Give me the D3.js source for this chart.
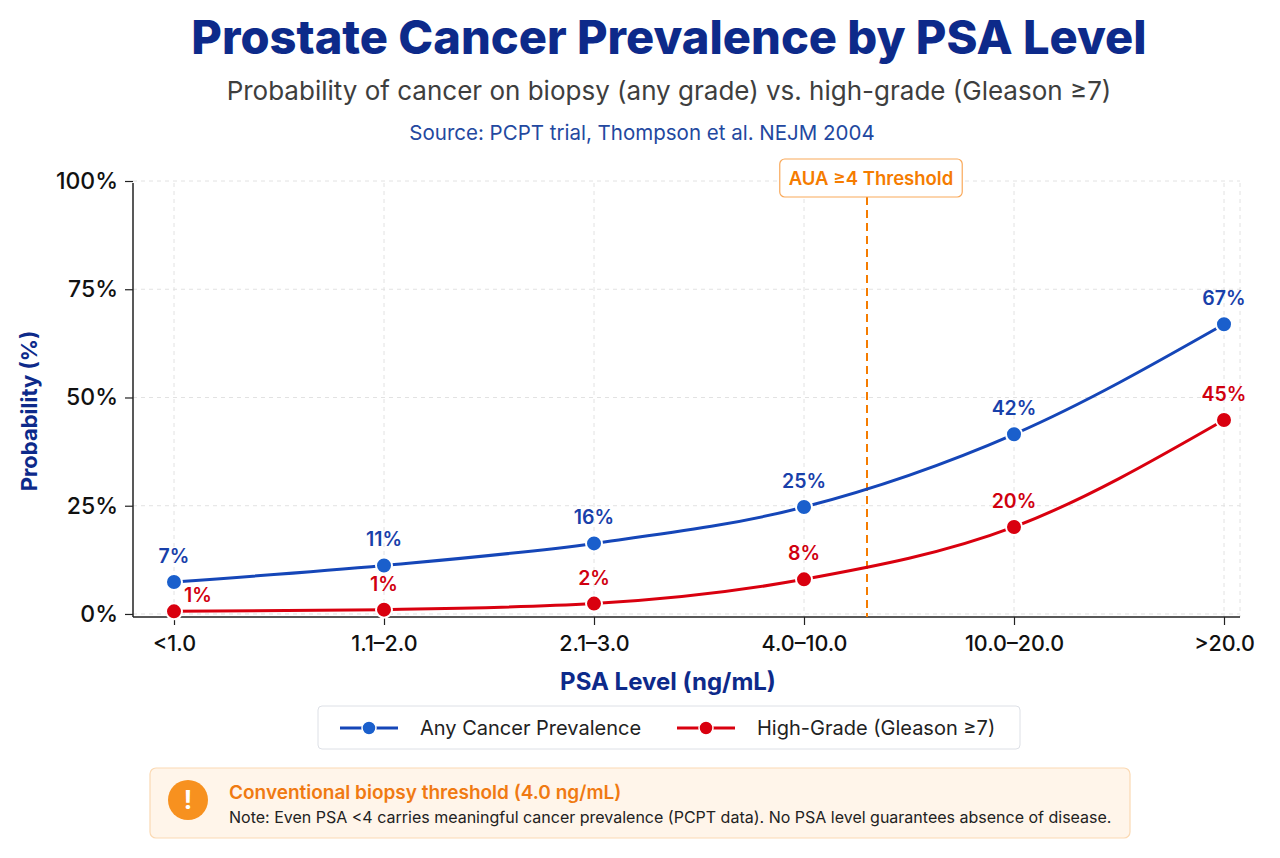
<!DOCTYPE html>
<html>
<head>
<meta charset="utf-8">
<script src="https://cdn.jsdelivr.net/npm/d3@7"></script>
<style>
  body { margin: 0; background: #fff; }
  svg { display: block; font-family: Inter, "Noto Sans", sans-serif; }
</style>
</head>
<body>
<div id="chart"></div>
<script>
// data
var categories = ["<1.0", "1.1–2.0", "2.1–3.0", "4.0–10.0", "10.0–20.0", ">20.0"]
var anyCancer = [7.4, 11.2, 16.3, 24.7, 41.5, 66.9]
var highGrade = [0.6, 1.0, 2.4, 8.0, 20.1, 44.8]
var yTicks = [0, 25, 50, 75, 100]
var thresholdIndex = 3.3   // PSA 4.0 marker, in category units
var seriesNames = ["Any Cancer Prevalence", "High-Grade (Gleason ≥7)"]

var W = 1280, H = 858
var colBlue = "#1546b8", colBlueDot = "#1a5fcc", colRed = "#d9000f", colNavy = "#0d2a8a", colOrange = "#f57c00"

var svg = d3.select("#chart").append("svg").attr("width", W).attr("height", H)

// scales
var x = d3.scaleLinear().domain([0, categories.length - 1]).range([174, 1224])
var y = d3.scaleLinear().domain([-0.7, 100]).range([617, 181])
var plotLeft = 133, plotRight = 1240, plotBottom = 617, plotTop = 183

// titles
svg.append("text").attr("x", 669).attr("y", 54).attr("text-anchor", "middle")
  .style("font-size", "47px").style("font-weight", 800).style("fill", colNavy)
  .text("Prostate Cancer Prevalence by PSA Level")
svg.append("text").attr("x", 669).attr("y", 100).attr("text-anchor", "middle")
  .style("font-size", "26px").style("fill", "#3e3e3e")
  .text("Probability of cancer on biopsy (any grade) vs. high-grade (Gleason ≥7)")
svg.append("text").attr("x", 642).attr("y", 140).attr("text-anchor", "middle")
  .style("font-size", "20.5px").style("fill", "#2348a0")
  .text("Source: PCPT trial, Thompson et al. NEJM 2004")

// grid
var grid = svg.append("g").attr("stroke", "#e2e2e2").attr("stroke-dasharray", "4,4").attr("stroke-width", 1)
grid.selectAll(".hg").data(yTicks).enter().append("line").attr("class", "hg")
  .attr("x1", plotLeft).attr("x2", plotRight).attr("y1", d => y(d)).attr("y2", d => y(d))
grid.selectAll(".vg").data(categories).enter().append("line").attr("class", "vg")
  .attr("x1", (d, i) => x(i)).attr("x2", (d, i) => x(i)).attr("y1", plotTop).attr("y2", plotBottom)
grid.append("line").attr("x1", plotRight).attr("x2", plotRight).attr("y1", plotTop).attr("y2", plotBottom)

// axes
var yAxis = svg.append("g").attr("transform", "translate(" + plotLeft + ",0)")
  .call(d3.axisLeft(y).tickValues(yTicks).tickFormat(d => d + "%").tickSize(8).tickPadding(7))
yAxis.select(".domain").attr("d", "M0," + plotTop + "V" + plotBottom).attr("stroke", "#222").attr("stroke-width", 1.5)
yAxis.selectAll(".tick line").attr("stroke", "#222").attr("stroke-width", 1.2)
yAxis.selectAll(".tick text").style("font-size", "23px").style("font-weight", 500).style("fill", "#111")
  .style("font-family", "Inter, sans-serif")

var xAxis = svg.append("g").attr("transform", "translate(0," + plotBottom + ")")
  .call(d3.axisBottom(x).tickValues(d3.range(categories.length)).tickFormat(i => categories[i]).tickSize(8).tickPadding(11))
xAxis.select(".domain").attr("d", "M" + plotLeft + ",0H" + plotRight).attr("stroke", "#222").attr("stroke-width", 1.5)
xAxis.selectAll(".tick line").attr("stroke", "#222").attr("stroke-width", 1.2)
xAxis.selectAll(".tick text").style("font-size", "21.5px").style("font-weight", 500).style("fill", "#111")
  .style("font-family", "Inter, sans-serif")

svg.append("text").attr("x", 668).attr("y", 690).attr("text-anchor", "middle")
  .style("font-size", "24px").style("font-weight", 700).style("fill", colNavy)
  .text("PSA Level (ng/mL)")
svg.append("text").attr("transform", "translate(37,411) rotate(-90)").attr("text-anchor", "middle")
  .style("font-size", "22px").style("font-weight", 700).style("fill", colNavy)
  .text("Probability (%)")

// threshold
var tx = x(thresholdIndex)
svg.append("line").attr("x1", tx).attr("x2", tx).attr("y1", 197).attr("y2", plotBottom)
  .attr("stroke", colOrange).attr("stroke-width", 2).attr("stroke-dasharray", "8,5")
var tg = svg.append("g")
var tt = tg.append("text").attr("x", tx + 4).attr("y", 185).attr("text-anchor", "middle")
  .style("font-size", "18.5px").style("font-weight", 600).style("fill", colOrange)
  .text("AUA ≥4 Threshold")
var bb = tt.node().getBBox()
tg.insert("rect", "text").attr("x", bb.x - 9).attr("y", 159).attr("width", bb.width + 18).attr("height", 38)
  .attr("rx", 5).attr("fill", "#fff").attr("stroke", "#f9a95a").attr("stroke-width", 1.2)

// lines
var line = d3.line().x((d, i) => x(i)).y(d => y(d)).curve(d3.curveMonotoneX)
var series = [
  {name: seriesNames[0], values: anyCancer, line: colBlue, dot: colBlueDot},
  {name: seriesNames[1], values: highGrade, line: colRed, dot: colRed}
]
series.forEach(function(s) {
  svg.append("path").datum(s.values).attr("d", line)
    .attr("fill", "none").attr("stroke", s.line).attr("stroke-width", 3)
})
series.forEach(function(s, si) {
  var g = svg.append("g")
  g.selectAll("circle").data(s.values).enter().append("circle")
    .attr("cx", (d, i) => x(i)).attr("cy", d => y(d)).attr("r", 8)
    .attr("fill", s.dot).attr("stroke", "#fff").attr("stroke-width", 2)
  g.selectAll("text").data(s.values).enter().append("text")
    .attr("x", function(d, i) {
      var crowded = si == 1 && (y(d) - y(anyCancer[i])) < 40
      return crowded ? x(i) + 24 : x(i)
    })
    .attr("y", function(d, i) {
      var crowded = si == 1 && (y(d) - y(anyCancer[i])) < 40
      return crowded ? y(d) - 9 : y(d) - 19
    })
    .attr("text-anchor", "middle")
    .style("font-size", "19.5px").style("font-weight", 600).style("fill", si == 0 ? "#1840aa" : "#d0000f")
    .text(d => Math.round(d) + "%")
})

// legend
var lg = svg.append("g")
lg.append("rect").attr("x", 318).attr("y", 706).attr("width", 702).attr("height", 43).attr("rx", 4)
  .attr("fill", "#fff").attr("stroke", "#dde0e6").attr("stroke-width", 1)
var legendX = [340, 677]
series.forEach(function(s, i) {
  var lx = legendX[i]
  lg.append("line").attr("x1", lx).attr("x2", lx + 58).attr("y1", 728).attr("y2", 728)
    .attr("stroke", s.line).attr("stroke-width", 3)
  lg.append("circle").attr("cx", lx + 29).attr("cy", 728).attr("r", 7)
    .attr("fill", s.dot).attr("stroke", "#fff").attr("stroke-width", 1.5)
  lg.append("text").attr("x", lx + 80).attr("y", 735)
    .style("font-size", "20px").style("fill", "#222").text(s.name)
})

// note box
var ng = svg.append("g")
ng.append("rect").attr("x", 150).attr("y", 768).attr("width", 980).attr("height", 70).attr("rx", 6)
  .attr("fill", "#fff5ea").attr("stroke", "#fbd9b3").attr("stroke-width", 1.2)
ng.append("circle").attr("cx", 188).attr("cy", 800).attr("r", 20).attr("fill", "#f7911f")
ng.append("text").attr("x", 188).attr("y", 809).attr("text-anchor", "middle")
  .style("font-size", "25px").style("font-weight", 700).style("fill", "#fff").text("!")
ng.append("text").attr("x", 229).attr("y", 799)
  .style("font-size", "19px").style("font-weight", 600).style("fill", "#f07a12")
  .text("Conventional biopsy threshold (4.0 ng/mL)")
ng.append("text").attr("x", 229).attr("y", 823)
  .style("font-size", "16px").style("fill", "#222")
  .text("Note: Even PSA <4 carries meaningful cancer prevalence (PCPT data). No PSA level guarantees absence of disease.")
</script>
</body>
</html>
